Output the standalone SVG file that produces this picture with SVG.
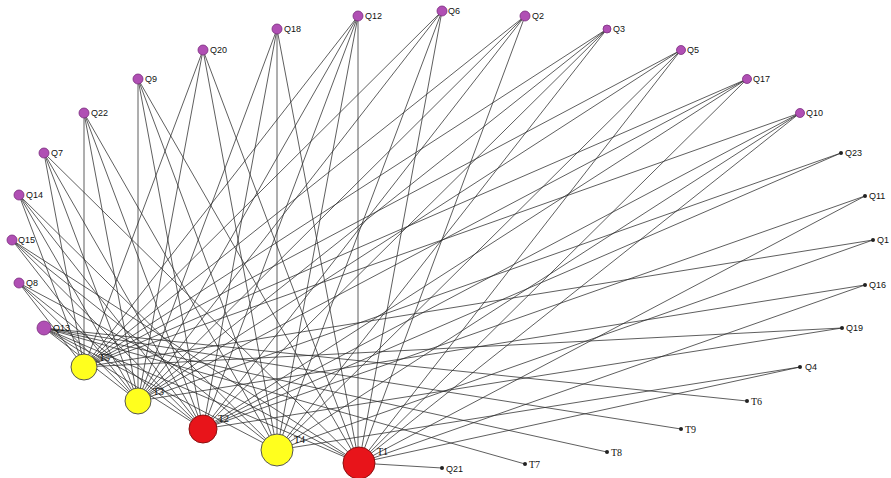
<svg xmlns="http://www.w3.org/2000/svg" width="891" height="478" viewBox="0 0 891 478">
<style>
.e line{stroke:#2a2a2a;stroke-width:0.75}
.q{fill:#b04fb4;stroke:#7a2c7e;stroke-width:0.8}
.d{fill:#222}
.y{fill:#ffff1e;stroke:#555;stroke-width:1}
.r{fill:#e8141a;stroke:#8a1010;stroke-width:1}
text{font-family:"Liberation Sans",Arial,sans-serif;font-size:9px;fill:#111}
.t{font-family:"Liberation Serif",serif;font-size:10px}
</style>
<rect width="891" height="478" fill="#fff"/>
<g class="e" id="edges">
<line x1="203" y1="50" x2="84" y2="367"/><line x1="203" y1="50" x2="138" y2="401"/><line x1="203" y1="50" x2="277" y2="450"/><line x1="203" y1="50" x2="359" y2="463"/>
<line x1="138" y1="79" x2="138" y2="401"/><line x1="138" y1="79" x2="203" y2="429"/><line x1="138" y1="79" x2="277" y2="450"/><line x1="138" y1="79" x2="359" y2="463"/>
<line x1="84" y1="113" x2="84" y2="367"/><line x1="84" y1="113" x2="138" y2="401"/><line x1="84" y1="113" x2="203" y2="429"/><line x1="84" y1="113" x2="277" y2="450"/>
<line x1="44" y1="153" x2="84" y2="367"/><line x1="44" y1="153" x2="138" y2="401"/><line x1="44" y1="153" x2="203" y2="429"/><line x1="44" y1="153" x2="359" y2="463"/>
<line x1="19" y1="195" x2="84" y2="367"/><line x1="19" y1="195" x2="138" y2="401"/><line x1="19" y1="195" x2="203" y2="429"/><line x1="19" y1="195" x2="277" y2="450"/>
<line x1="12" y1="240" x2="138" y2="401"/><line x1="12" y1="240" x2="203" y2="429"/><line x1="12" y1="240" x2="277" y2="450"/><line x1="12" y1="240" x2="359" y2="463"/>
<line x1="19" y1="283" x2="84" y2="367"/><line x1="19" y1="283" x2="138" y2="401"/><line x1="19" y1="283" x2="203" y2="429"/><line x1="19" y1="283" x2="359" y2="463"/>
<line x1="44" y1="328" x2="138" y2="401"/><line x1="44" y1="328" x2="203" y2="429"/><line x1="44" y1="328" x2="277" y2="450"/><line x1="44" y1="328" x2="359" y2="463"/>
<line x1="44" y1="328" x2="747" y2="401"/><line x1="44" y1="328" x2="681" y2="429"/><line x1="44" y1="328" x2="607" y2="452"/><line x1="44" y1="328" x2="525" y2="464"/>
<line x1="277" y1="29" x2="138" y2="401"/><line x1="277" y1="29" x2="203" y2="429"/><line x1="277" y1="29" x2="277" y2="450"/><line x1="277" y1="29" x2="359" y2="463"/>
<line x1="358" y1="16" x2="84" y2="367"/><line x1="358" y1="16" x2="138" y2="401"/><line x1="358" y1="16" x2="203" y2="429"/><line x1="358" y1="16" x2="277" y2="450"/><line x1="358" y1="16" x2="358" y2="463"/>
<line x1="442" y1="11" x2="84" y2="367"/><line x1="442" y1="11" x2="138" y2="401"/><line x1="442" y1="11" x2="277" y2="450"/><line x1="442" y1="11" x2="359" y2="463"/>
<line x1="525" y1="16" x2="84" y2="367"/><line x1="525" y1="16" x2="138" y2="401"/><line x1="525" y1="16" x2="203" y2="429"/><line x1="525" y1="16" x2="359" y2="463"/>
<line x1="607" y1="29" x2="84" y2="367"/><line x1="607" y1="29" x2="138" y2="401"/><line x1="607" y1="29" x2="203" y2="429"/><line x1="607" y1="29" x2="277" y2="450"/>
<line x1="681" y1="50" x2="84" y2="367"/><line x1="681" y1="50" x2="138" y2="401"/><line x1="681" y1="50" x2="277" y2="450"/><line x1="681" y1="50" x2="359" y2="463"/>
<line x1="747" y1="79" x2="84" y2="367"/><line x1="747" y1="79" x2="138" y2="401"/><line x1="747" y1="79" x2="203" y2="429"/><line x1="747" y1="79" x2="359" y2="463"/>
<line x1="800" y1="113" x2="84" y2="367"/><line x1="800" y1="113" x2="203" y2="429"/><line x1="800" y1="113" x2="277" y2="450"/><line x1="800" y1="113" x2="359" y2="463"/>
<line x1="841" y1="153" x2="138" y2="401"/><line x1="841" y1="153" x2="203" y2="429"/>
<line x1="865" y1="196" x2="203" y2="429"/><line x1="865" y1="196" x2="359" y2="463"/>
<line x1="873" y1="240" x2="84" y2="367"/><line x1="873" y1="240" x2="277" y2="450"/>
<line x1="865" y1="285" x2="138" y2="401"/><line x1="865" y1="285" x2="359" y2="463"/>
<line x1="842" y1="328" x2="84" y2="367"/><line x1="842" y1="328" x2="203" y2="429"/>
<line x1="800" y1="367" x2="277" y2="450"/><line x1="800" y1="367" x2="359" y2="463"/>
<line x1="359" y1="463" x2="442" y2="468"/>
</g>
<g id="Q20"><circle class="q" cx="203" cy="50" r="5"/><text x="210" y="53">Q20</text></g>
<g id="Q9"><circle class="q" cx="138" cy="79" r="5"/><text x="145" y="82">Q9</text></g>
<g id="Q22"><circle class="q" cx="84" cy="113" r="5"/><text x="91" y="116">Q22</text></g>
<g id="Q7"><circle class="q" cx="44" cy="153" r="5"/><text x="51" y="156">Q7</text></g>
<g id="Q14"><circle class="q" cx="19" cy="195" r="5"/><text x="26" y="198">Q14</text></g>
<g id="Q15"><circle class="q" cx="12" cy="240" r="5"/><text x="18" y="243">Q15</text></g>
<g id="Q8"><circle class="q" cx="19" cy="283" r="5"/><text x="26" y="286">Q8</text></g>
<g id="Q13"><circle class="q" cx="44" cy="328" r="7"/><text x="53" y="331">Q13</text></g>
<g id="Q18"><circle class="q" cx="277" cy="29" r="5"/><text x="284" y="32">Q18</text></g>
<g id="Q12"><circle class="q" cx="358" cy="16" r="5"/><text x="365" y="19">Q12</text></g>
<g id="Q6"><circle class="q" cx="442" cy="11" r="5"/><text x="448" y="14">Q6</text></g>
<g id="Q2"><circle class="q" cx="525" cy="16" r="5"/><text x="532" y="19">Q2</text></g>
<g id="Q3"><circle class="q" cx="607" cy="29" r="4"/><text x="613" y="32">Q3</text></g>
<g id="Q5"><circle class="q" cx="681" cy="50" r="4.5"/><text x="687" y="53">Q5</text></g>
<g id="Q17"><circle class="q" cx="747" cy="79" r="4.5"/><text x="753" y="82">Q17</text></g>
<g id="Q10"><circle class="q" cx="800" cy="113" r="4.5"/><text x="806" y="116">Q10</text></g>
<g id="Q23"><circle class="d" cx="841" cy="153" r="2"/><text x="845" y="156">Q23</text></g>
<g id="Q11"><circle class="d" cx="865" cy="196" r="2"/><text x="869" y="199">Q11</text></g>
<g id="Q1"><circle class="d" cx="873" cy="240" r="2"/><text x="877" y="243">Q1</text></g>
<g id="Q16"><circle class="d" cx="865" cy="285" r="2"/><text x="869" y="288">Q16</text></g>
<g id="Q19"><circle class="d" cx="842" cy="328" r="2"/><text x="846" y="331">Q19</text></g>
<g id="Q4"><circle class="d" cx="800" cy="367" r="2"/><text x="805" y="370">Q4</text></g>
<g id="T6"><circle class="d" cx="747" cy="401" r="2"/><text class="t" x="751" y="405">T6</text></g>
<g id="T9"><circle class="d" cx="681" cy="429" r="2"/><text class="t" x="685" y="433">T9</text></g>
<g id="T8"><circle class="d" cx="607" cy="452" r="2"/><text class="t" x="611" y="456">T8</text></g>
<g id="T7"><circle class="d" cx="525" cy="464" r="2"/><text class="t" x="529" y="468">T7</text></g>
<g id="Q21"><circle class="d" cx="442" cy="468" r="2"/><text x="446" y="472">Q21</text></g>
<g id="T5"><circle class="y" cx="84" cy="367" r="13"/><text class="t" x="99" y="361">T5</text></g>
<g id="T3"><circle class="y" cx="138" cy="401" r="13"/><text class="t" x="153" y="395">T3</text></g>
<g id="T2"><circle class="r" cx="203" cy="429" r="14"/><text class="t" x="218" y="422">T2</text></g>
<g id="T4"><circle class="y" cx="277" cy="450" r="16"/><text class="t" x="294" y="443">T4</text></g>
<g id="T1"><circle class="r" cx="359" cy="463" r="16"/><text class="t" x="377" y="455">T1</text></g>
</svg>
